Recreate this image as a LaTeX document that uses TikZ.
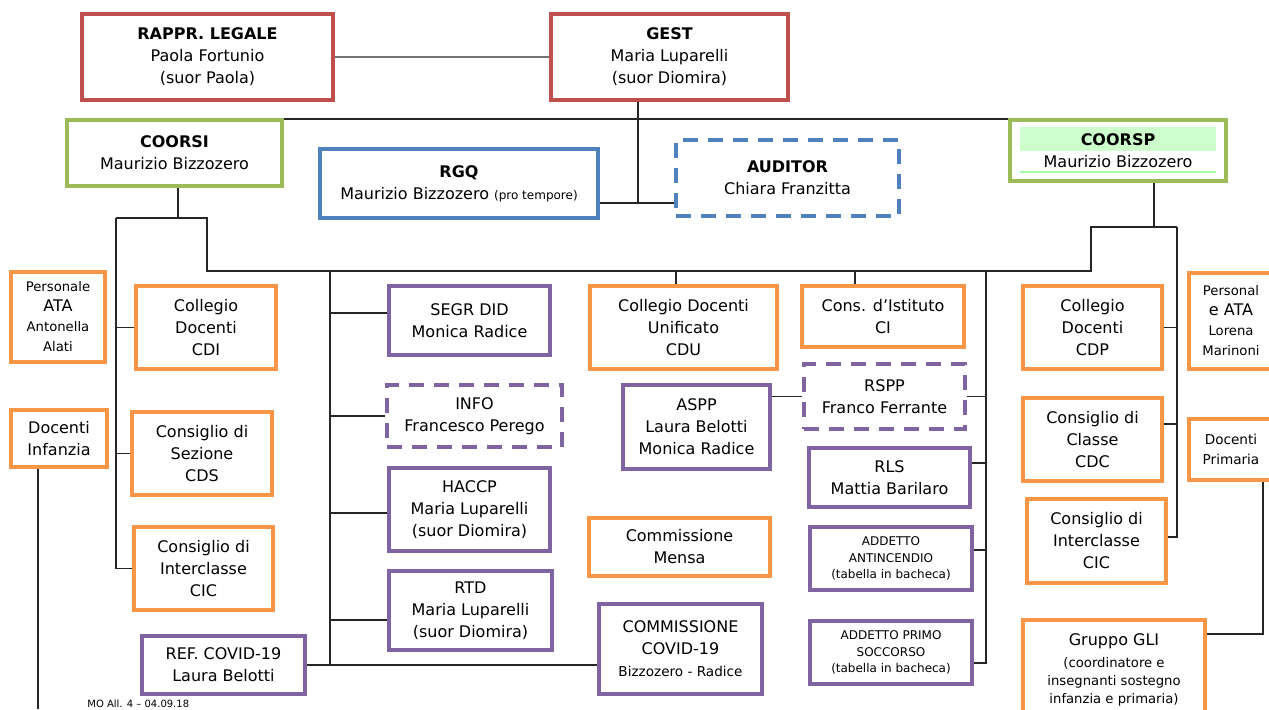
\documentclass[tikz,border=0pt]{standalone}
\usepackage{fontspec}
\setmainfont{DejaVu Sans}
\definecolor{rosso}{HTML}{C0504D}
\definecolor{verde}{HTML}{9BBB59}
\definecolor{blu}{HTML}{4F81BD}
\definecolor{arancio}{HTML}{F79646}
\definecolor{viola}{HTML}{8064A2}
\definecolor{menta}{HTML}{CCFFCC}
\tikzset{
	ruolo/.style={draw, line width=2pt, inner sep=0pt, align=center, font=\fontsize{8}{11}\selectfont},
	tratt/.style={ruolo, line width=1.6pt, dash pattern=on 7.5pt off 5pt},
	taglia/.style 2 args={minimum width=#1*0.5pt-2pt, minimum height=#2*0.5pt-2pt},
	filo/.style={line width=0.7pt, draw=black!85},
	piccolo/.style={font=\fontsize{6.6}{10}\selectfont},
	minimo/.style={font=\fontsize{6}{8.2}\selectfont}
}
\begin{document}
\begin{tikzpicture}[x=0.5pt,y=-0.5pt]
	\useasboundingbox (0,0) rectangle (1269,709);
	\clip (0,0) rectangle (1269,709);
	% vertici
	\node[ruolo, draw=rosso, taglia={255}{90}] (rappr) at (207.5,57) {\textbf{RAPPR. LEGALE}\\Paola Fortunio\\(suor Paola)};
	\node[ruolo, draw=rosso, taglia={241}{90}] (gest) at (669.5,57) {\textbf{GEST}\\Maria Luparelli\\(suor Diomira)};
	\node[ruolo, draw=verde, taglia={219}{70}] (coorsi) at (174.5,153) {\textbf{COORSI}\\Maurizio Bizzozero};
	\node[ruolo, draw=blu, taglia={282}{73}] (rgq) at (459,183.5) {\textbf{RGQ}\\Maurizio Bizzozero {\fontsize{6}{11}\selectfont(pro tempore)}};
	\node[tratt, draw=blu, taglia={227}{80}] (auditor) at (787.5,178) {\textbf{AUDITOR}\\Chiara Franzitta};
	\fill[menta] (1020,127) rectangle (1216,151);
	\draw[menta!80!green, line width=0.6pt] (1020,172) -- (1216,172);
	\node[ruolo, draw=verde, taglia={220}{65}] (coorsp) at (1118,150.5) {\textbf{COORSP}\\Maurizio Bizzozero};
	% scuola infanzia
	\node[ruolo, piccolo, draw=arancio, taglia={98}{94}] (atai) at (58,317) {Personale\\{\fontsize{8}{10}\selectfont ATA}\\Antonella\\Alati};
	\node[ruolo, draw=arancio, taglia={144}{87}] (cdi) at (206,327.5) {Collegio\\Docenti\\CDI};
	\node[ruolo, draw=arancio, taglia={100}{61}] (docinf) at (59,438.5) {Docenti\\Infanzia};
	\node[ruolo, draw=arancio, taglia={144}{87}] (cds) at (202,453.5) {Consiglio di\\Sezione\\CDS};
	\node[ruolo, draw=arancio, taglia={143}{87}] (cici) at (203.5,568.5) {Consiglio di\\Interclasse\\CIC};
	\node[ruolo, draw=viola, taglia={167}{62}] (refcovid) at (223.5,665) {REF. COVID-19\\Laura Belotti};
	% servizi
	\node[ruolo, draw=viola, taglia={165}{73}] (segr) at (469.5,320.5) {SEGR DID\\Monica Radice};
	\node[tratt, draw=viola, taglia={179}{66}] (info) at (474.5,416) {INFO\\Francesco Perego};
	\node[ruolo, draw=viola, taglia={165}{87}] (haccp) at (469.5,509.5) {HACCP\\Maria Luparelli\\(suor Diomira)};
	\node[ruolo, draw=viola, taglia={167}{83}] (rtd) at (470.5,610.5) {RTD\\Maria Luparelli\\(suor Diomira)};
	\node[ruolo, draw=arancio, taglia={191}{87}] (cdu) at (683.5,327.5) {Collegio Docenti\\Unificato\\CDU};
	\node[ruolo, draw=arancio, taglia={166}{65}] (ci) at (883,316.5) {Cons. d’Istituto\\CI};
	\node[tratt, draw=viola, taglia={165}{69}] (rspp) at (884.5,396.5) {RSPP\\Franco Ferrante};
	\node[ruolo, draw=viola, taglia={151}{88}] (aspp) at (696.5,427) {ASPP\\Laura Belotti\\Monica Radice};
	\node[ruolo, draw=viola, taglia={165}{63}] (rls) at (889.5,477.5) {RLS\\Mattia Barilaro};
	\node[ruolo, draw=arancio, taglia={185}{62}] (mensa) at (679.5,547) {Commissione\\Mensa};
	\node[ruolo, minimo, draw=viola, taglia={166}{67}] (antinc) at (891,558.5) {ADDETTO\\ANTINCENDIO\\(tabella in bacheca)};
	\node[ruolo, draw=viola, taglia={167}{94}] (comcovid) at (680.5,649) {COMMISSIONE\\COVID-19\\{\fontsize{6.8}{11}\selectfont Bizzozero - Radice}};
	\node[ruolo, minimo, draw=viola, taglia={166}{67}] (soccorso) at (891,652.5) {ADDETTO PRIMO\\SOCCORSO\\(tabella in bacheca)};
	% scuola primaria
	\node[ruolo, draw=arancio, taglia={143}{87}] (cdp) at (1092.5,327.5) {Collegio\\Docenti\\CDP};
	\node[ruolo, piccolo, draw=arancio, taglia={88}{100}] (atap) at (1231,321) {Personal\\{\fontsize{8}{10}\selectfont e ATA}\\Lorena\\Marinoni};
	\node[ruolo, draw=arancio, taglia={143}{87}] (cdc) at (1092.5,439.5) {Consiglio di\\Classe\\CDC};
	\node[ruolo, font=\fontsize{6.8}{9.6}\selectfont, draw=arancio, taglia={88}{65}] (docprim) at (1231,449.5) {Docenti\\Primaria};
	\node[ruolo, draw=arancio, taglia={143}{88}] (cicp) at (1096.5,541) {Consiglio di\\Interclasse\\CIC};
	\node[ruolo, font=\fontsize{6.6}{9}\selectfont, draw=arancio, taglia={186}{104}] (gli) at (1114,670) {{\fontsize{8}{9}\selectfont Gruppo GLI}\\[2pt](coordinatore e\\insegnanti sostegno\\infanzia e primaria)};
	\node[anchor=west, inner sep=0pt, font=\fontsize{5}{6}\selectfont] (sigla) at (87,704) {MO All. 4 – 04.09.18};
	% collegamenti
	\coordinate (g) at (638,203);
	\coordinate (siL) at (116,218);
	\coordinate (siR) at (207,271);
	\coordinate (busE) at (1091,271);
	\coordinate (spT) at (1154,227);
	\coordinate (spR) at (1177,227);
	\coordinate (spA) at (330,271);
	\coordinate (spB) at (986,271);
	\coordinate (bcdu) at (676,271);
	\coordinate (bci) at (855,271);
	\coordinate (fondo) at (38,709);
	\coordinate (dp) at (1263,634);
	\draw[filo, draw=gray!90!black, line width=1.4pt] (rappr.east) -- (gest.west);
	\draw[filo] (g |- gest.south) -- (g);
	\draw[filo] (rgq.east |- g) -- (auditor.west |- g);
	\draw[filo] ([yshift=-0.5pt]coorsi.north east) -- ([yshift=-0.5pt]coorsp.north west);
	\draw[filo] ([xshift=1.75pt]coorsi.south) -- ([xshift=1.75pt]coorsi.south |- siL);
	\draw[filo] (siL) -- (siL -| siR) -- (siR) -- (busE) -- (busE |- spR) -- (spR);
	\draw[filo] (spT |- coorsp.south) -- (spT);
	\draw[filo] (cdi.west) -| (siL);
	\draw[filo] (cds.west) -| (siL);
	\draw[filo] (cici.west) -| (siL);
	\draw[filo] ([yshift=3.75pt]segr.west) -| (spA);
	\draw[filo] (info.west) -| (spA);
	\draw[filo] ([yshift=-1.75pt]haccp.west) -| (spA);
	\draw[filo] ([yshift=-4.75pt]rtd.west) -| (spA);
	\draw[filo] (spA) -- (spA |- refcovid.east);
	\draw[filo] (refcovid.east) -- (refcovid.east -| comcovid.west);
	\draw[filo] (bcdu) -- (bcdu |- cdu.north);
	\draw[filo] (bci) -- (bci |- ci.north);
	\draw[filo] (rspp.west) -- (rspp.west -| aspp.east);
	\draw[filo] (rspp.east) -| (spB);
	\draw[filo] ([yshift=7.25pt]rls.east) -| (spB);
	\draw[filo] ([yshift=4.25pt]antinc.east) -| (spB);
	\draw[filo] ([yshift=-5.25pt]soccorso.east) -| (spB);
	\draw[filo] (cdp.east) -| (spR);
	\draw[filo] ([yshift=7.75pt]cdc.east) -| (spR);
	\draw[filo] ([yshift=2pt]cicp.east) -| (spR);
	\draw[filo] (fondo |- docinf.south) -- (fondo);
	\draw[filo] (dp |- docprim.south) -- (dp) -- (dp -| gli.east);
\end{tikzpicture}
\end{document}
